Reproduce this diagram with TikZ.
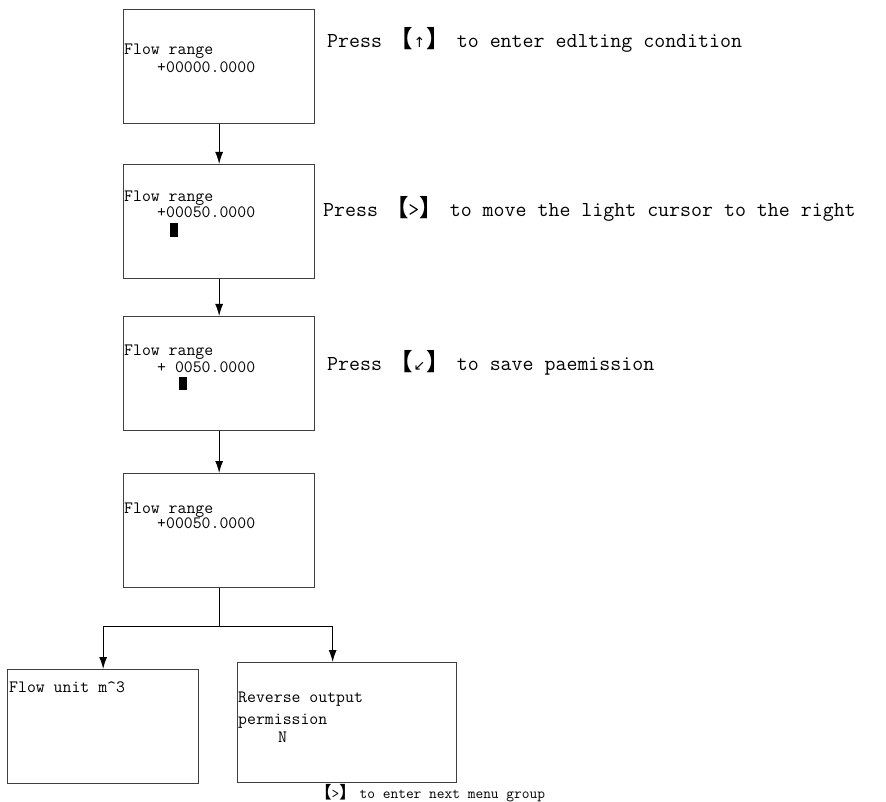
\documentclass[tikz,border=0pt]{standalone}
\usepackage{fontspec}
\usepackage{tikz}
\usetikzlibrary{positioning,arrows.meta}
\newfontfamily\cjkfont[Scale=1.1]{Noto Sans CJK SC}
\newfontfamily\symfont{DejaVu Sans}
\newcommand{\keyname}[1]{{\kern-4pt\cjkfont\bfseries 【}#1{\cjkfont\bfseries 】\kern-4pt}}
\newcommand{\keyarrow}[1]{\makebox[14pt]{\symfont\fontsize{14}{14}\selectfont #1}}

\begin{document}
\begin{tikzpicture}[
    x=1pt, y=-1pt,
    screen/.style={draw=black!75, line width=1.3pt, minimum width=191pt, minimum height=114pt, anchor=north west, inner sep=0pt},
    lcd/.style={anchor=base west, inner sep=0pt, font=\ttfamily\fontsize{17.3}{20}\selectfont},
    hint/.style={anchor=base west, inner sep=0pt, font=\ttfamily\fontsize{21.3}{24}\selectfont},
    note/.style={anchor=base west, inner sep=0pt, font=\ttfamily\fontsize{15}{18}\selectfont},
    link/.style={line width=1.1pt, -{Latex[length=12pt,width=8pt]}}
]
\useasboundingbox (0,0) rectangle (886,802);

\node[screen] (range0) at (123,9) {};
\node[screen] (range1) at (123,164) {};
\node[screen] (range2) at (123,316) {};
\node[screen] (range3) at (123,473) {};
\node[screen] (unit) at (7,669) {};
\node[screen, minimum width=219pt, minimum height=120pt] (reverse) at (237,662) {};

\node[lcd] (range0a) at ([shift={(1,46)}]range0.north west) {Flow range};
\node[lcd] (range0b) at ([shift={(34,64)}]range0.north west) {+00000.0000};
\node[lcd] (range1a) at ([shift={(1,38)}]range1.north west) {Flow range};
\node[lcd] (range1b) at ([shift={(34,54)}]range1.north west) {+00050.0000};
\node[lcd] (range2a) at ([shift={(1,39)}]range2.north west) {Flow range};
\node[lcd] (range2b) at ([shift={(34,56)}]range2.north west) {+ 0050.0000};
\node[lcd] (range3a) at ([shift={(1,40)}]range3.north west) {Flow range};
\node[lcd] (range3b) at ([shift={(34,55)}]range3.north west) {+00050.0000};
\fill ([shift={(47,59)}]range1.north west) rectangle ++(8,14);
\fill ([shift={(56,61)}]range2.north west) rectangle ++(8,13);

\node[lcd] (unita) at ([shift={(2,23)}]unit.north west) {Flow unit m\textasciicircum 3};
\node[lcd] (reversea) at ([shift={(1,40)}]reverse.north west) {Reverse output};
\node[lcd] (reverseb) at ([shift={(1,62)}]reverse.north west) {permission};
\node[lcd] (reversec) at ([shift={(41,80)}]reverse.north west) {N};

\node[hint] (hint0) at (327,48) {Press \keyname{\keyarrow{↑}} to enter edlting condition};
\node[hint] (hint1) at (323,217) {Press \keyname{>} to move the light cursor to the right};
\node[hint] (hint2) at (327,370) {Press \keyname{\keyarrow{↙}} to save paemission};
\node[note] (next) at (319,798) {\keyname{>} to enter next menu group};

\draw[link] (range0) -- (range1);
\draw[link] (range1) -- (range2);
\draw[link] (range2) -- (range3);
\coordinate (fork) at ([shift={(0,38)}]range3.south);
\draw[line width=1.1pt] (range3) -- (fork);
\draw[link] (fork) -| (unit.north);
\draw[link] (fork) -| ([xshift=-14.5pt]reverse.north);
\end{tikzpicture}
\end{document}
